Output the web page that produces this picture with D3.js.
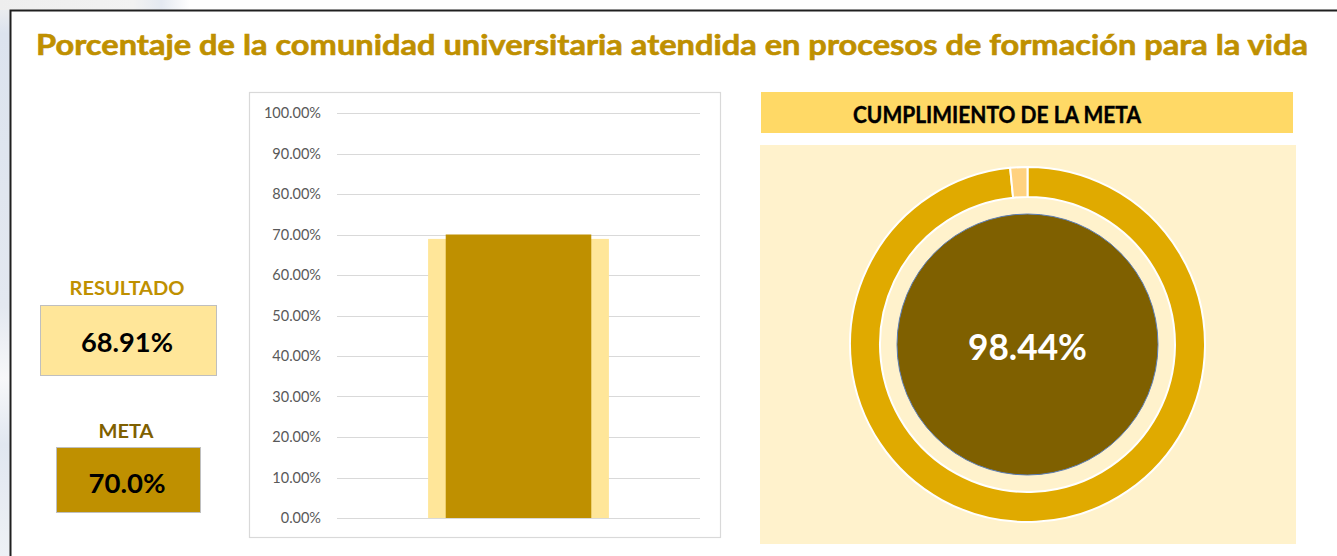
<!DOCTYPE html>
<html>
<head>
<meta charset="utf-8">
<script src="https://cdn.jsdelivr.net/npm/d3@7/dist/d3.min.js"></script>
<style>
  html, body { margin: 0; padding: 0; background: #ffffff; }
  svg { display: block; font-family: Lato, "Open Sans", "DejaVu Sans", sans-serif; }
</style>
</head>
<body>
<svg id="chart" width="1337" height="556"></svg>
<script>
// ---- Data ----
const titulo = "Porcentaje de la comunidad universitaria atendida en procesos de formación para la vida";
const categorias = ["Comunidad universitaria"];
const resultado = [0.6891];
const meta = [0.70];
const yTickValues = [0, 0.1, 0.2, 0.3, 0.4, 0.5, 0.6, 0.7, 0.8, 0.9, 1.0];
const cumplimientoTitulo = "CUMPLIMIENTO DE LA META";
// goal compliance = result / goal, remainder shown as the thin light slice
const cumplimiento = resultado[0] / meta[0];
const donutValores = [cumplimiento, 1 - cumplimiento];

const colors = {
  gold: "#BF9000",
  goldLight: "#FFE699",
  brown: "#7F6000",
  ring: "#E0AA00",
  ringRest: "#FFD280",
  header: "#FFD966",
  panel: "#FFF2CC",
  grid: "#D9D9D9",
  tick: "#595959"
};

const svg = d3.select("#chart");

// helper: text with a fixed rendered width
function label(g, txt, x, y, size, width, fill, weight = 700, anchor = "middle") {
  return g.append("text")
    .attr("x", x).attr("y", y)
    .attr("text-anchor", anchor)
    .attr("dominant-baseline", "central")
    .attr("font-size", size)
    .attr("font-weight", weight)
    .attr("fill", fill)
    .attr("textLength", width)
    .attr("lengthAdjust", "spacingAndGlyphs")
    .text(txt);
}

// ---- Page backdrop and frame ----
const defs = svg.append("defs");
const lg = defs.append("linearGradient").attr("id", "leftStrip")
  .attr("x1", 0).attr("y1", 0).attr("x2", 0).attr("y2", 1);
lg.append("stop").attr("offset", "0").attr("stop-color", "#F0F0F0");
lg.append("stop").attr("offset", "0.06").attr("stop-color", "#DCE3EE");
lg.append("stop").attr("offset", "0.55").attr("stop-color", "#E3E8F0");
lg.append("stop").attr("offset", "0.68").attr("stop-color", "#F7F8FA");
lg.append("stop").attr("offset", "0.8").attr("stop-color", "#E1E7F0");
lg.append("stop").attr("offset", "1").attr("stop-color", "#EEF1F6");
svg.append("rect").attr("x", 0).attr("y", 0).attr("width", 10).attr("height", 556)
  .attr("fill", "url(#leftStrip)");
const tg = defs.append("linearGradient").attr("id", "topStrip")
  .attr("x1", 0).attr("y1", 0).attr("x2", 1).attr("y2", 0);
tg.append("stop").attr("offset", "0").attr("stop-color", "#EEEEEE");
tg.append("stop").attr("offset", "0.7").attr("stop-color", "#F2F2F2");
tg.append("stop").attr("offset", "0.85").attr("stop-color", "#E4E9F1");
tg.append("stop").attr("offset", "1").attr("stop-color", "#FFFFFF");
svg.append("rect").attr("x", 0).attr("y", 0).attr("width", 190).attr("height", 10)
  .attr("fill", "url(#topStrip)");

svg.append("path")
  .attr("d", "M10.5,556 L10.5,10.5 L1337,10.5")
  .attr("fill", "none").attr("stroke", "#1F1F1F").attr("stroke-width", 2);

// ---- Title ----
label(svg, titulo, 672, 44, 28, 1272, colors.gold)
  .attr("stroke", colors.gold).attr("stroke-width", 0.6);

// ---- Result / goal boxes ----
const boxes = svg.append("g");
label(boxes, "RESULTADO", 127, 287, 19, 115, colors.gold);
boxes.append("rect").attr("x", 40.5).attr("y", 305.5).attr("width", 176).attr("height", 70)
  .attr("fill", colors.goldLight).attr("stroke", "#BFBFBF").attr("stroke-width", 1);
label(boxes, d3.format(".2%")(resultado[0]), 127, 341, 27, 92, "#000000");

label(boxes, "META", 126, 430, 19, 55, colors.brown);
boxes.append("rect").attr("x", 56.5).attr("y", 447.5).attr("width", 144).attr("height", 65)
  .attr("fill", colors.gold).attr("stroke", "#BFBFBF").attr("stroke-width", 1);
label(boxes, d3.format(".1%")(meta[0]), 127, 482, 27, 77, "#000000");

// ---- Bar chart ----
const chart = svg.append("g");
chart.append("rect").attr("x", 249.5).attr("y", 92.5).attr("width", 471).attr("height", 445)
  .attr("fill", "#FFFFFF").attr("stroke", colors.grid).attr("stroke-width", 1.2);

const plot = { left: 337, right: 700, top: 113, bottom: 518 };
const y = d3.scaleLinear().domain([0, 1]).range([plot.bottom, plot.top]);
const x = d3.scaleBand().domain(categorias).range([plot.left, plot.right]).padding(0.335);

chart.append("g").selectAll("line").data(yTickValues).join("line")
  .attr("x1", plot.left).attr("x2", plot.right)
  .attr("y1", d => Math.round(y(d)) + 0.5).attr("y2", d => Math.round(y(d)) + 0.5)
  .attr("stroke", colors.grid).attr("stroke-width", 1);

const yAxis = chart.append("g")
  .attr("transform", `translate(${plot.left},0)`)
  .call(d3.axisLeft(y).tickValues(yTickValues).tickFormat(d3.format(".2%")).tickSize(0).tickPadding(16));
yAxis.select(".domain").remove();
yAxis.selectAll("text")
  .attr("font-family", "Lato, 'Open Sans', sans-serif")
  .attr("font-size", 14.5).attr("fill", colors.tick);

// result bar (wide, light) behind the goal bar (narrow, dark)
chart.append("g").selectAll("rect").data(categorias).join("rect")
  .attr("x", (d) => x(d))
  .attr("width", x.bandwidth())
  .attr("y", (d, i) => y(resultado[i]))
  .attr("height", (d, i) => y(0) - y(resultado[i]))
  .attr("fill", colors.goldLight);

const inset = x.bandwidth() * 0.0975;
chart.append("g").selectAll("rect").data(categorias).join("rect")
  .attr("x", (d) => x(d) + inset)
  .attr("width", x.bandwidth() - 2 * inset)
  .attr("y", (d, i) => y(meta[i]))
  .attr("height", (d, i) => y(0) - y(meta[i]))
  .attr("fill", colors.gold);

// ---- Goal compliance donut ----
const dn = svg.append("g");
dn.append("rect").attr("x", 761).attr("y", 92).attr("width", 532).attr("height", 41)
  .attr("fill", colors.header);
label(dn, cumplimientoTitulo, 997, 114, 22, 288, "#000000")
  .attr("stroke", "#000000").attr("stroke-width", 0.4);

dn.append("rect").attr("x", 760).attr("y", 145).attr("width", 536).attr("height", 399)
  .attr("fill", colors.panel);

const cx = 1027.5, cy = 344.5;
const pie = d3.pie().sort(null).value(d => d);
const arc = d3.arc().innerRadius(147.5).outerRadius(177.5);
const ring = dn.append("g").attr("transform", `translate(${cx},${cy})`);
ring.selectAll("path").data(pie(donutValores)).join("path")
  .attr("d", arc)
  .attr("fill", (d, i) => i === 0 ? colors.ring : colors.ringRest)
  .attr("stroke", "#FFFFFF").attr("stroke-width", 2);

ring.append("circle").attr("r", 130.5)
  .attr("fill", colors.brown).attr("stroke", "#5B7DB5").attr("stroke-width", 1);

label(ring, d3.format(".2%")(cumplimiento), 0, 1, 36, 119, "#FFFFFF");
</script>
</body>
</html>
